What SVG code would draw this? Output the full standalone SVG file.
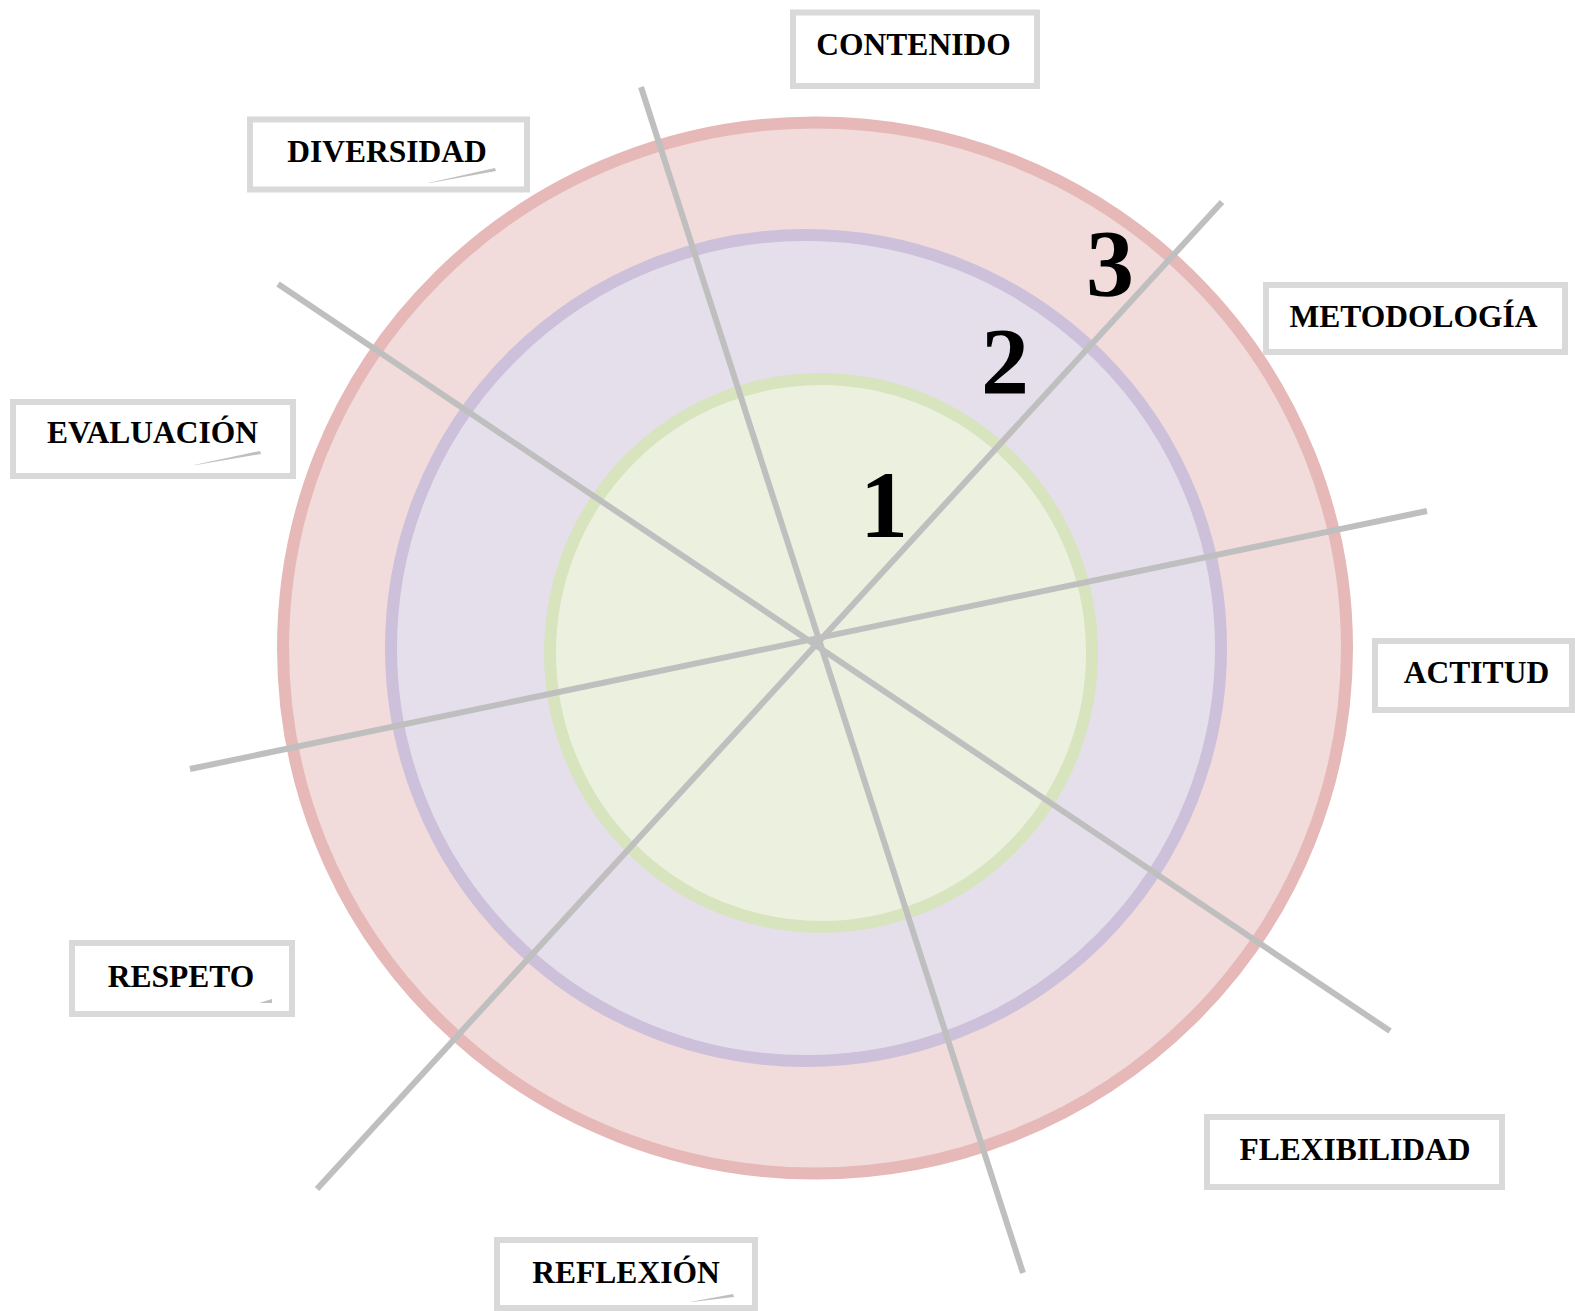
<svg xmlns="http://www.w3.org/2000/svg" width="1575" height="1311" viewBox="0 0 1575 1311">
<style>
.box{fill:#ffffff;stroke:#d9d9d9;stroke-width:6}
.lbl{font-family:"Liberation Serif","Times New Roman",serif;font-weight:bold;font-size:31.5px;fill:#000;text-anchor:middle}
.num{font-family:"Liberation Serif","Times New Roman",serif;font-weight:bold;font-size:96px;fill:#000;text-anchor:middle}
.ray{stroke:#bfbfbf;stroke-width:6;fill:none}
.nick{fill:#bfbfbf}
</style>
<rect width="1575" height="1311" fill="#ffffff"/>
<g id="ring3"><ellipse cx="815" cy="648" rx="532" ry="525.5" fill="#f1dbdb" stroke="#e6b8b8" stroke-width="12"/></g>
<g id="ring2"><ellipse cx="806" cy="648" rx="415" ry="413" fill="#e5dfec" stroke="#ccc0da" stroke-width="12"/></g>
<g id="ring1"><ellipse cx="821" cy="653" rx="271" ry="274" fill="#ebf1de" stroke="#d7e4bd" stroke-width="12"/></g>
<g id="connectors">
<line class="ray" x1="641" y1="87" x2="1023" y2="1273"/>
<line class="ray" x1="1222" y1="202" x2="317" y2="1189"/>
<line class="ray" x1="278" y1="284" x2="1390" y2="1031"/>
<line class="ray" x1="1427" y1="511" x2="190" y2="769"/>
</g>
<g id="levels">
<text class="num" x="884" y="537">1</text>
<text class="num" x="1005" y="394">2</text>
<text class="num" x="1110" y="296">3</text>
</g>
<g id="contenido"><rect class="box" x="793" y="12.5" width="244" height="73.5"/><text class="lbl" x="913.5" y="55">CONTENIDO</text></g>
<g id="diversidad"><rect class="box" x="250" y="119.5" width="277" height="70"/><text class="lbl" x="387" y="162">DIVERSIDAD</text><polygon class="nick" points="428,183 495,168 496,171 430,183"/></g>
<g id="evaluacion"><rect class="box" x="13" y="402" width="280" height="74"/><text class="lbl" x="152.5" y="443">EVALUACIÓN</text><polygon class="nick" points="194,465 260,451 261,454 196,465"/></g>
<g id="respeto"><rect class="box" x="72" y="943" width="220" height="71"/><text class="lbl" x="181" y="987">RESPETO</text><polygon class="nick" points="259,1003 272,999 272,1003"/></g>
<g id="reflexion"><rect class="box" x="497" y="1240" width="258" height="68"/><text class="lbl" x="626" y="1283">REFLEXIÓN</text><polygon class="nick" points="690,1302 733,1294 734,1297 692,1302"/></g>
<g id="metodologia"><rect class="box" x="1266" y="285" width="299" height="67"/><text class="lbl" x="1413.5" y="327">METODOLOGÍA</text></g>
<g id="actitud"><rect class="box" x="1375" y="641" width="197" height="69"/><text class="lbl" x="1476.5" y="683">ACTITUD</text></g>
<g id="flexibilidad"><rect class="box" x="1207" y="1117" width="295" height="70"/><text class="lbl" x="1355" y="1160">FLEXIBILIDAD</text></g>
</svg>
